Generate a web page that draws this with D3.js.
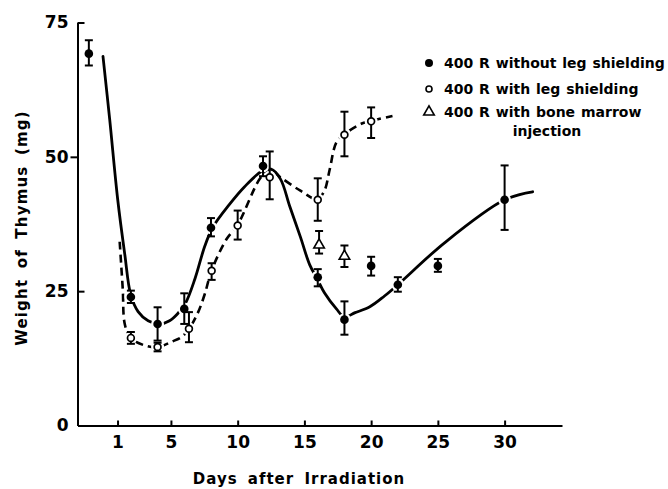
<!DOCTYPE html>
<html>
<head>
<meta charset="utf-8">
<script src="https://cdn.jsdelivr.net/npm/d3@7/dist/d3.min.js"></script>
<style>
  html, body { margin: 0; background: #fff; }
</style>
</head>
<body>
<div id="chart"></div>
<script>
// Thymus weight after 400 R, three groups. Points are [day, mean, low, high].
const withoutShield = [
  [-1.15, 69.2, 67.0, 71.7],
  [2.0, 23.9, 22.8, 25.1],
  [4.0, 18.9, 15.8, 22.0],
  [6.0, 21.7, 18.9, 24.6],
  [8.0, 36.8, 35.2, 38.6],
  [11.9, 48.3, 46.4, 50.1],
  [16.0, 27.6, 25.9, 29.1],
  [18.0, 19.7, 16.9, 23.1],
  [20.0, 29.7, 27.9, 31.4],
  [22.0, 26.2, 24.9, 27.6],
  [25.0, 29.7, 28.6, 31.0],
  [30.0, 42.0, 36.4, 48.4],
];
const withShield = [
  [2.0, 16.3, 15.2, 17.4],
  [4.0, 14.6, 13.8, 15.4],
  [6.35, 18.0, 15.5, 21.1],
  [8.05, 28.8, 27.1, 30.2],
  [10.0, 37.2, 34.6, 40.0],
  [12.4, 46.2, 42.1, 51.0],
  [16.0, 42.0, 38.1, 46.0],
  [18.0, 54.1, 50.1, 58.4],
  [20.0, 56.6, 53.5, 59.2],
];
const boneMarrow = [
  [16.1, 33.6, 32.0, 36.2],
  [18.0, 31.5, 29.5, 33.5],
];

// hand-fitted curves from the figure, [day, mg]
const withoutCurve = [
  [-0.09, 68.7], [0.41, 57.0], [1.01, 42.1], [1.54, 31.9], [1.99, 24.3],
  [2.54, 21.2], [3.29, 19.5], [4.16, 18.9], [4.9, 19.5], [5.5, 20.8],
  [6.1, 22.8], [6.8, 27.3], [7.54, 33.4], [8.14, 36.9], [9.4, 41.2],
  [10.5, 44.4], [11.8, 47.3], [12.5, 47.7], [13.2, 45.9], [13.9, 40.8],
  [14.7, 35.1], [15.4, 29.9], [15.96, 27.3], [16.5, 24.7], [17.4, 21.7],
  [18.0, 20.2], [18.8, 21.0], [19.9, 22.1], [21.0, 24.1], [22.0, 26.2],
  [25.5, 34.0], [30.0, 42.0], [32.1, 43.5],
];
const withCurve = [
  [1.16, 34.2], [1.39, 25.4], [1.54, 18.9], [1.97, 16.3], [3.04, 14.9],
  [3.99, 14.6], [5.06, 15.6], [5.81, 16.5], [6.36, 18.0], [7.04, 21.1],
  [7.54, 24.5], [8.04, 28.8], [9.17, 34.7], [9.99, 37.3], [11.66, 45.9],
  [12.4, 47.7], [13.2, 46.2], [14.7, 43.7], [15.96, 42.1], [16.5, 43.7],
  [16.9, 47.7], [17.4, 52.7], [18.0, 54.2], [19.3, 56.2], [20.0, 56.7],
  [21.6, 57.6],
];

const xTicks = [1, 5, 10, 15, 20, 25, 30];
const yTicks = [0, 25, 50, 75];
const legendLabels = [
  '400 R without leg shielding',
  '400 R with leg shielding',
  '400 R with bone marrow',
  'injection',
];

const W = 668, H = 489;
const FONT = "'DejaVu Sans', sans-serif";

const svg = d3.select('#chart').append('svg')
  .attr('width', W).attr('height', H)
  .attr('viewBox', `0 0 ${W} ${H}`);

const x = d3.scaleLinear().domain([-2, 34.3]).range([77.5, 562]);
const y = d3.scaleLinear().domain([0, 75]).range([425.5, 22.5]);

// --- axes ---

svg.append('g')
  .attr('transform', `translate(0, ${y(0)})`)
  .call(d3.axisBottom(x).tickValues(xTicks).tickSizeInner(-5).tickSizeOuter(0).tickPadding(10))
  .call(ax => ax.select('.domain').attr('stroke-width', 2))
  .call(ax => ax.selectAll('.tick line').attr('stroke-width', 2))
  .call(ax => ax.selectAll('.tick text')
    .attr('font-family', FONT).attr('font-size', 17).attr('font-weight', 'bold'));

svg.append('g')
  .attr('transform', `translate(${x(-2)}, 0)`)
  .call(d3.axisLeft(y).tickValues(yTicks).tickSize(0).tickPadding(9))
  .call(ax => ax.select('.domain').attr('stroke-width', 2))
  .call(ax => ax.selectAll('.tick line')
    .attr('stroke-width', 2)
    .attr('x2', d => d === 0 ? 0 : (d === 50 ? -7 : 7)))
  .call(ax => ax.selectAll('.tick text')
    .attr('font-family', FONT).attr('font-size', 17).attr('font-weight', 'bold'));

svg.append('text')
  .attr('x', 299).attr('y', 484)
  .attr('text-anchor', 'middle')
  .attr('font-family', FONT).attr('font-size', 15).attr('font-weight', 'bold')
  .attr('letter-spacing', 1).attr('word-spacing', 4)
  .text('Days after Irradiation');

svg.append('text')
  .attr('transform', 'translate(27, 228) rotate(-90)')
  .attr('text-anchor', 'middle')
  .attr('font-family', FONT).attr('font-size', 15).attr('font-weight', 'bold')
  .attr('letter-spacing', 1.2).attr('word-spacing', 4)
  .text('Weight of Thymus (mg)');

// --- curves ---

const line = d3.line()
  .x(d => x(d[0]))
  .y(d => y(d[1]))
  .curve(d3.curveCatmullRom.alpha(0.5));

svg.append('path')
  .attr('d', line(withoutCurve))
  .attr('fill', 'none').attr('stroke', '#000').attr('stroke-width', 2.8)
  .attr('stroke-linecap', 'round');

svg.append('path')
  .attr('d', line(withCurve))
  .attr('fill', 'none').attr('stroke', '#000').attr('stroke-width', 2.6)
  .attr('stroke-dasharray', '8,5');

// white halos break the curves at each marker, as in the print
const allPts = withoutShield.concat(withShield, boneMarrow);
svg.append('g').selectAll('circle')
  .data(allPts).enter().append('circle')
  .attr('cx', d => x(d[0])).attr('cy', d => y(d[1]))
  .attr('r', 6.5).attr('fill', '#fff');

// --- error bars ---

const bars = svg.append('g').attr('stroke', '#000').attr('stroke-width', 2);
allPts.forEach(d => {
  const cx = x(d[0]);
  bars.append('line').attr('x1', cx).attr('x2', cx).attr('y1', y(d[2])).attr('y2', y(d[3]));
  bars.append('line').attr('x1', cx - 4).attr('x2', cx + 4).attr('y1', y(d[2])).attr('y2', y(d[2]));
  bars.append('line').attr('x1', cx - 4).attr('x2', cx + 4).attr('y1', y(d[3])).attr('y2', y(d[3]));
});

// --- markers ---

svg.append('g').selectAll('circle')
  .data(withoutShield).enter().append('circle')
  .attr('cx', d => x(d[0])).attr('cy', d => y(d[1]))
  .attr('r', 4.3).attr('fill', '#000');

svg.append('g').selectAll('circle')
  .data(withShield).enter().append('circle')
  .attr('cx', d => x(d[0])).attr('cy', d => y(d[1]))
  .attr('r', 3.4).attr('fill', '#fff').attr('stroke', '#000').attr('stroke-width', 1.7);

const tri = d3.symbol(d3.symbolTriangle).size(48);
svg.append('g').selectAll('path')
  .data(boneMarrow).enter().append('path')
  .attr('d', tri)
  .attr('transform', d => `translate(${x(d[0])}, ${y(d[1])})`)
  .attr('fill', '#fff').attr('stroke', '#000').attr('stroke-width', 1.6);

// --- legend ---

const lg = svg.append('g');
lg.append('circle').attr('cx', 429).attr('cy', 63).attr('r', 4).attr('fill', '#000');
lg.append('circle').attr('cx', 429).attr('cy', 89).attr('r', 3)
  .attr('fill', '#fff').attr('stroke', '#000').attr('stroke-width', 1.6);
lg.append('path').attr('d', tri).attr('transform', 'translate(429, 112)')
  .attr('fill', '#fff').attr('stroke', '#000').attr('stroke-width', 1.6);

const legendPos = [[444, 68, 'start'], [444, 94, 'start'], [444, 117, 'start'], [547, 136, 'middle']];
legendLabels.forEach((t, i) => {
  lg.append('text')
    .attr('x', legendPos[i][0]).attr('y', legendPos[i][1])
    .attr('text-anchor', legendPos[i][2])
    .attr('font-family', FONT).attr('font-size', 14).attr('font-weight', 'bold')
    .attr('word-spacing', 1)
    .text(t);
});
</script>
</body>
</html>
